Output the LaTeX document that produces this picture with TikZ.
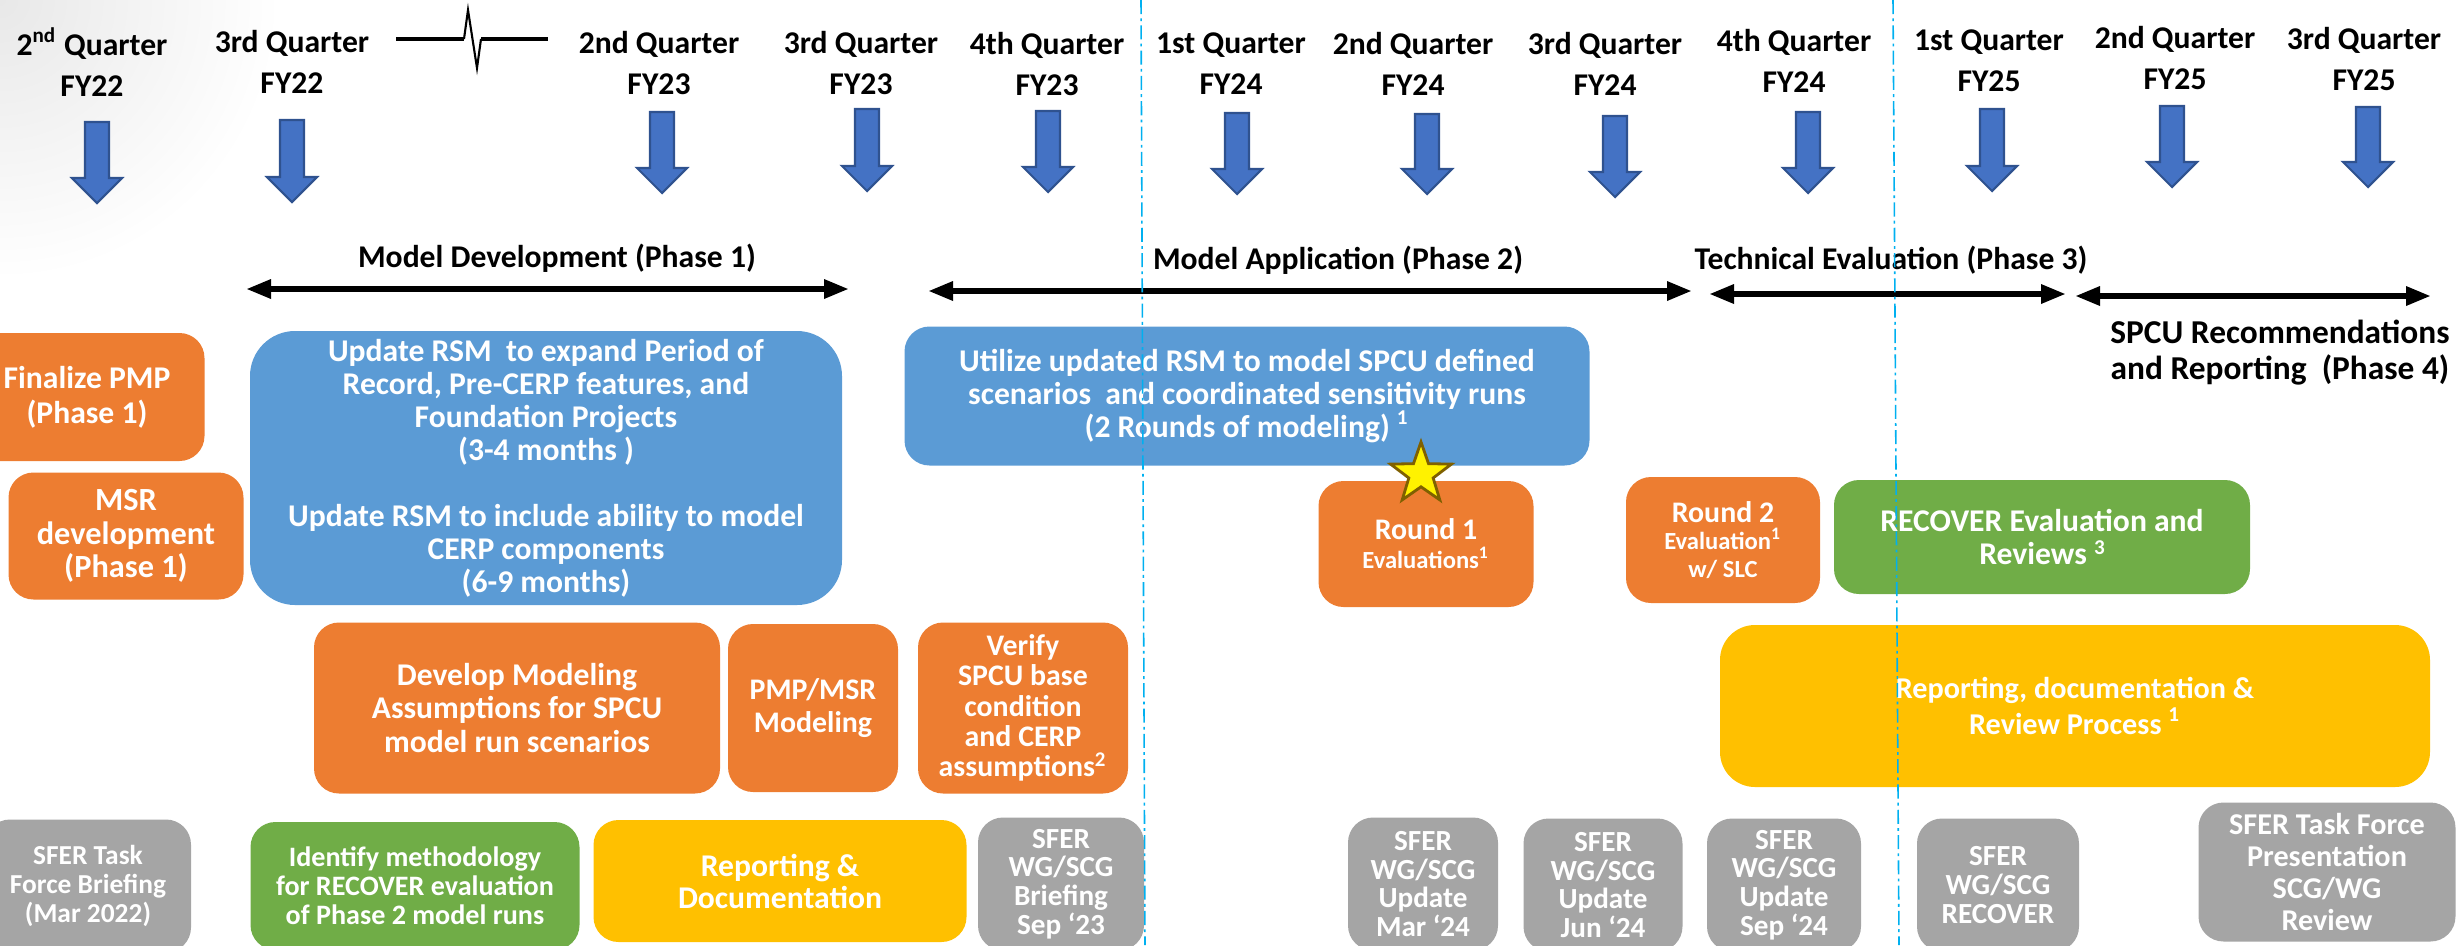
\documentclass[tikz,border=0pt]{standalone}
\usepackage{fontspec}
\setmainfont{Carlito}
\usetikzlibrary{arrows.meta,shapes.geometric}

\definecolor{boxorange}{HTML}{ED7D31}
\definecolor{boxblue}{HTML}{5B9BD5}
\definecolor{boxgreen}{HTML}{70AD47}
\definecolor{boxyellow}{HTML}{FFC000}
\definecolor{boxgray}{HTML}{A5A5A5}
\definecolor{arrowblue}{HTML}{4472C4}
\definecolor{arrowedge}{HTML}{2F528F}
\definecolor{guideblue}{HTML}{00B0F0}
\definecolor{staredge}{HTML}{7F6000}

\def\qarrow(#1,#2,#3){\draw[qarrow] (#1-12,#2) -- (#1+12,#2) -- (#1+12,#3-25) -- (#1+25,#3-25) -- (#1,#3) -- (#1-25,#3-25) -- (#1-12,#3-25) -- cycle;}

\tikzset{
  quarter/.style={font=\fontsize{9}{11.6}\selectfont\bfseries, align=center, inner sep=0pt},
  phase/.style={font=\fontsize{9}{10.2}\selectfont\bfseries, align=center, inner sep=0pt},
  span/.style={line width=1.7pt, {Triangle[length=2.5mm,width=1.8mm]}-{Triangle[length=2.5mm,width=1.8mm]}},
  card/.style={rounded corners=2.5mm, text=white, align=center, inner sep=0pt, font=\fontsize{9}{9.4}\selectfont\bfseries},
  meeting/.style={card, fill=boxgray, minimum height=13.3mm, font=\fontsize{8.3}{8.2}\selectfont\bfseries},
  qarrow/.style={fill=arrowblue, draw=arrowedge, line width=0.6pt},
  guide/.style={guideblue, line width=0.45pt, dash pattern=on 4pt off 1.2pt on 0.8pt off 1.2pt},
}

\begin{document}
\begin{tikzpicture}[x=0.1mm, y=-0.1mm]
		\useasboundingbox (0,0) rectangle (2459,945);
		% slide shadow in the corner
		\shade[inner color=black!9, outer color=white] (0,0) circle (280);
		
		%%%%% QUARTERS %%%%%
		\node[quarter] (q1) at (92,62) {2\textsuperscript{nd} Quarter\\FY22};
		\node[quarter] (q2) at (292,62) {3rd Quarter\\FY22};
		\node[quarter] (q3) at (659,63) {2nd Quarter\\FY23};
		\node[quarter] (q4) at (861,63) {3rd Quarter\\FY23};
		\node[quarter] (q5) at (1047,64) {4th Quarter\\FY23};
		\node[quarter] (q6) at (1231,64) {1st Quarter\\FY24};
		\node[quarter] (q7) at (1413,64) {2nd Quarter\\FY24};
		\node[quarter] (q8) at (1605,64) {3rd Quarter\\FY24};
		\node[quarter] (q9) at (1794,61) {4th Quarter\\FY24};
		\node[quarter] (q10) at (1989,61) {1st Quarter\\FY25};
		\node[quarter] (q11) at (2175,58) {2nd Quarter\\FY25};
		\node[quarter] (q12) at (2364,59) {3rd Quarter\\FY25};
		
		\draw[line width=1.2pt] (396,39) -- (464,39);
		\draw[line width=0.6pt] (464,39) -- (468,10) -- (477,68) -- (481,39);
		\draw[line width=1.2pt] (481,39) -- (548,39);
		
		\qarrow(97,122,203)
		\qarrow(292,120,202)
		\qarrow(662,112,193)
		\qarrow(867,109,191)
		\qarrow(1048,111,192)
		\qarrow(1237,113,194)
		\qarrow(1427,114,194)
		\qarrow(1615,116,197)
		\qarrow(1808,112,193)
		\qarrow(1992,109,191)
		\qarrow(2172,106,187)
		\qarrow(2368,107,187)
		
		%%%%% PHASES %%%%%
		\node[phase] (ph1) at (557,258) {Model Development (Phase 1)};
		\node[phase] (ph2) at (1338,260) {Model Application (Phase 2)};
		\node[phase] (ph3) at (1891,260) {Technical Evaluation (Phase 3)};
		\node[phase, font=\fontsize{9.5}{10.2}\selectfont\bfseries] (ph4) at (2280,353) {SPCU Recommendations\\and Reporting\ \ (Phase 4)};
		
		\coordinate (p1a) at (246,289); \coordinate (p1b) at (849,289);
		\coordinate (p2a) at (928,291); \coordinate (p2b) at (1692,291);
		\coordinate (p3a) at (1709,294); \coordinate (p3b) at (2066,294);
		\coordinate (p4a) at (2075,296); \coordinate (p4b) at (2431,296);
		\draw[span] (p1a) -- (p1b);
		\draw[span] (p2a) -- (p2b);
		\draw[span] (p3a) -- (p3b);
		\draw[span] (p4a) -- (p4b);
		
		%%%%% TASKS %%%%%
		\node[card, fill=boxorange, minimum width=23.5mm, minimum height=12.8mm, font=\fontsize{9}{10}\selectfont\bfseries] (fin) at (87,397) {Finalize PMP\\(Phase 1)};
		\node[card, fill=boxorange, minimum width=23.5mm, minimum height=12.7mm, font=\fontsize{9.2}{9.5}\selectfont\bfseries] (msr) at (126,536) {MSR\\development\\(Phase 1)};
		\node[card, fill=boxblue, rounded corners=4.5mm, minimum width=59.2mm, minimum height=27.4mm] (rsm) at (546,468) {Update RSM\ \ to expand Period of\\Record, Pre-CERP features, and\\Foundation Projects\\(3-4 months )\\[9.4pt]Update RSM to include ability to model\\CERP components\\(6-9 months)};
		\node[card, fill=boxblue, minimum width=68.5mm, minimum height=13.9mm, font=\fontsize{9}{9.5}\selectfont\bfseries] (utl) at (1247,396) {Utilize updated RSM to model SPCU defined\\scenarios\ \ and coordinated sensitivity runs\\(2 Rounds of modeling) \textsuperscript{1}};
		\node[card, fill=boxorange, minimum width=21.5mm, minimum height=12.6mm, font=\fontsize{8.5}{8.2}\selectfont\bfseries] (r1) at (1426,544) {Round 1\\{\fontsize{7}{8}\selectfont Evaluations\textsuperscript{1}}};
		\node[card, fill=boxorange, minimum width=19.4mm, minimum height=12.6mm, font=\fontsize{8.5}{7.8}\selectfont\bfseries] (r2) at (1723,540) {Round 2\\{\fontsize{7}{8}\selectfont Evaluation\textsuperscript{1}}\\{\fontsize{7}{8}\selectfont w/ SLC}};
		\node[card, fill=boxgreen, minimum width=41.6mm, minimum height=11.4mm, font=\fontsize{9}{9.2}\selectfont\bfseries] (rec) at (2042,537) {RECOVER Evaluation and\\Reviews {\fontsize{6}{6}\selectfont\raisebox{0.9ex}{3}}};
		
		\node[card, fill=boxorange, minimum width=40.6mm, minimum height=17.1mm, font=\fontsize{9}{9.5}\selectfont\bfseries] (dev) at (517,708) {Develop Modeling\\Assumptions for SPCU\\model run scenarios};
		\node[card, fill=boxorange, minimum width=17mm, minimum height=16.8mm, font=\fontsize{8.5}{9.4}\selectfont\bfseries] (pmp) at (813,708) {PMP/MSR\\Modeling};
		\node[card, fill=boxorange, minimum width=21mm, minimum height=17.1mm, font=\fontsize{8.5}{8.6}\selectfont\bfseries] (ver) at (1023,708) {Verify\\SPCU base\\condition\\and CERP\\assumptions\textsuperscript{2}};
		\node[card, fill=boxyellow, rounded corners=3.5mm, minimum width=71mm, minimum height=16.2mm, font=\fontsize{8.6}{8.8}\selectfont\bfseries] (rdr) at (2075,706) {Reporting, documentation \&\\Review Process \textsuperscript{1}};
		
		%%%%% BOTTOM ROW %%%%%
		\node[meeting, minimum width=20.6mm, font=\fontsize{7.8}{8.3}\selectfont\bfseries] (tf1) at (88,886) {SFER Task\\Force Briefing\\(Mar 2022)};
		\node[card, fill=boxgreen, minimum width=32.9mm, minimum height=12.8mm, font=\fontsize{8}{8.3}\selectfont\bfseries] (idm) at (415,886) {Identify methodology\\for RECOVER evaluation\\of Phase 2 model runs};
		\node[card, fill=boxyellow, minimum width=37.3mm, minimum height=12.2mm, font=\fontsize{9}{9.1}\selectfont\bfseries] (rep) at (780,881) {Reporting \&\\Documentation};
		\node[meeting, minimum width=16.6mm] (wg1) at (1061,884) {SFER\\WG/SCG\\Briefing\\Sep ‘23};
		\node[meeting, minimum width=15mm] (wg2) at (1423,884) {SFER\\WG/SCG\\Update\\Mar ‘24};
		\node[meeting, minimum width=15.9mm] (wg3) at (1603,885) {SFER\\WG/SCG\\Update\\Jun ‘24};
		\node[meeting, minimum width=15.4mm] (wg4) at (1784,885) {SFER\\WG/SCG\\Update\\Sep ‘24};
		\node[meeting, minimum width=16.2mm] (wg5) at (1998,885) {SFER\\WG/SCG\\RECOVER};
		\node[meeting, minimum width=25.7mm, minimum height=13.9mm, font=\fontsize{8.6}{9.1}\selectfont\bfseries] (tf2) at (2327,872) {SFER Task Force\\Presentation\\SCG/WG\\Review};
		
		\node[star, star points=5, star point ratio=2.5, fill=yellow, draw=staredge, line width=0.8pt, minimum size=6.4mm, inner sep=0pt] (star) at (1421,474) {};
		
		%%%%% GUIDES %%%%%
		\coordinate (g1t) at (1141,0); \coordinate (g1b) at (1145,945);
		\coordinate (g2t) at (1893,0); \coordinate (g2b) at (1899,945);
		\draw[guide] (g1t) -- (g1b);
		\draw[guide] (g2t) -- (g2b);
	\end{tikzpicture}
\end{document}
